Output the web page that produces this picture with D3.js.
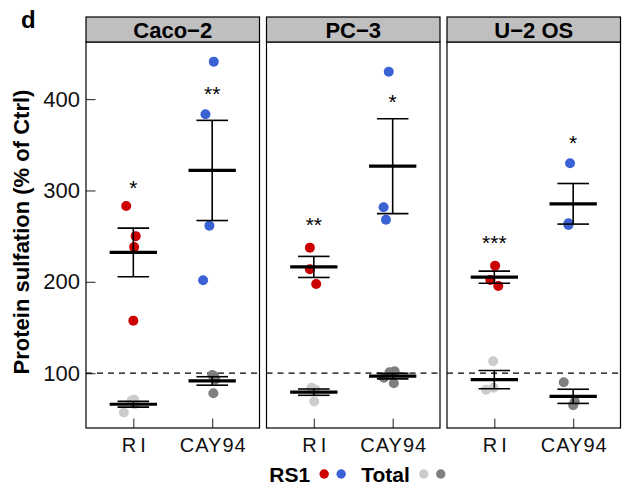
<!DOCTYPE html>
<html>
<head>
<meta charset="utf-8">
<script src="https://cdn.jsdelivr.net/npm/d3@7"></script>
<style>
    body { margin: 0; background: #fff; }
    svg { display: block; font-family: 'Liberation Sans', Arial, sans-serif; }
</style>
</head>
<body>
<svg id="chart" width="624" height="491"></svg>
<script>
const cellLines = ['Caco−2', 'PC−3', 'U−2 OS'];
const treatments = ['RI', 'CAY94'];
const yTicks = [100, 200, 300, 400];
const ctrlLevel = 100;

// % of Ctrl, one array per cell line
const rs1RI = [[283, 250, 238, 157.5], [237.4, 213.8, 197.7], [217.7, 202, 195.5]];
const rs1CAY94 = [[441, 383.4, 261.5, 201.7], [430, 281.6, 268], [329.8, 264.1, 262.3]];
const totalRI = [[71, 70, 66, 57], [84, 69, 82, 82], [113, 82, 84]];
const totalCAY94 = [[98, 97, 93, 78], [102, 95, 89, 101], [90, 65, 69]];

// horizontal jitter of each point (category units)
const jitRS1RI = [[-0.09, 0.03, 0.01, 0], [-0.05, -0.05, 0.03], [0.01, -0.05, 0.05]];
const jitRS1CAY94 = [[0.02, -0.085, -0.035, -0.115], [-0.05, -0.115, -0.085], [-0.04, -0.06, -0.06]];
const jitTotalRI = [[0.01, -0.02, 0.015, -0.12], [-0.03, 0.005, 0, 0.02], [-0.015, -0.105, -0.01]];
const jitTotalCAY94 = [[0, 0.025, 0.04, 0.015], [0.025, -0.11, 0.015, -0.04], [-0.12, 0, 0.02]];

// significance labels and where they sit
const stars = [['*', '**'], ['**', '*'], ['***', '*']];
const starY = [[308, 411], [267, 401.5], [247, 357]];

const legendLabels = ['RS1', 'Total'];

const RED = '#cc0000';
const BLUE = '#3a62d4';
const LIGHT = '#cccccc';
const DARK = '#7f7f7f';
const legendColors = [[RED, BLUE], [LIGHT, DARK]];

const series = [
    { t: 0, vals: totalRI, jit: jitTotalRI, color: LIGHT },
    { t: 1, vals: totalCAY94, jit: jitTotalCAY94, color: DARK },
    { t: 0, vals: rs1RI, jit: jitRS1RI, color: RED },
    { t: 1, vals: rs1CAY94, jit: jitRS1CAY94, color: BLUE }
];

const svg = d3.select('#chart');
const panelTop = 42;
const panelBottom = 428;
const stripTop = 17;

const fx = d3.scaleBand()
    .domain(cellLines)
    .range([86, 620.5])
    .paddingInner(7 / 180.5);
const bw = fx.bandwidth();

const x = d3.scaleLinear().domain([0.4, 2.6]).range([0, bw]);
const y = d3.scaleLinear().domain([40, 462.5]).range([panelBottom, panelTop]);

// y axis (ticks point inward)
const yAxis = svg.append('g')
    .attr('transform', `translate(${fx(cellLines[0])},0)`)
    .call(d3.axisLeft(y).tickValues(yTicks).tickSize(-9.5).tickPadding(6));
yAxis.select('.domain').remove();
yAxis.selectAll('line').attr('stroke', '#333').attr('stroke-width', 1.1);
yAxis.selectAll('text').attr('font-size', 22).attr('fill', '#111').attr('font-family', null);

cellLines.forEach((cell, ci) => {
    const g = svg.append('g').attr('transform', `translate(${fx(cell)},0)`);

    // control level
    g.append('line')
        .attr('x1', 0).attr('x2', bw)
        .attr('y1', y(ctrlLevel)).attr('y2', y(ctrlLevel))
        .attr('stroke', '#000')
        .attr('stroke-width', 1.2)
        .attr('stroke-dasharray', '6,5');

    // points
    series.forEach((s) => {
        s.vals[ci].forEach((v, i) => {
            g.append('circle')
                .attr('cx', x(s.t + 1 + s.jit[ci][i]))
                .attr('cy', y(v))
                .attr('r', 5)
                .attr('fill', s.color);
        });
    });

    // mean +/- SEM
    series.forEach((s) => {
        const vals = s.vals[ci];
        const m = d3.mean(vals);
        const se = d3.deviation(vals) / Math.sqrt(vals.length);
        const cx = s.t + 1;

        g.append('line')
            .attr('x1', x(cx)).attr('x2', x(cx))
            .attr('y1', y(m - se)).attr('y2', y(m + se))
            .attr('stroke', '#000').attr('stroke-width', 1.6);
        [m - se, m + se].forEach((v) => {
            g.append('line')
                .attr('x1', x(cx - 0.2)).attr('x2', x(cx + 0.2))
                .attr('y1', y(v)).attr('y2', y(v))
                .attr('stroke', '#000').attr('stroke-width', 1.6);
        });
        g.append('line')
            .attr('x1', x(cx - 0.3)).attr('x2', x(cx + 0.3))
            .attr('y1', y(m)).attr('y2', y(m))
            .attr('stroke', '#000').attr('stroke-width', 3.2);
    });

    // significance
    stars[ci].forEach((lab, ti) => {
        g.append('text')
            .attr('x', x(ti + 1))
            .attr('y', y(starY[ci][ti]) + 11.5)
            .attr('text-anchor', 'middle')
            .attr('font-size', 21)
            .attr('fill', '#000')
            .text(lab);
    });

    // x axis
    const xAxis = g.append('g')
        .attr('transform', `translate(0,${panelBottom})`)
        .call(d3.axisBottom(x).tickValues([1, 2]).tickFormat((d) => treatments[d - 1]).tickSize(-9.5).tickPadding(9.5));
    xAxis.select('.domain').remove();
    xAxis.selectAll('line').attr('stroke', '#333').attr('stroke-width', 1.1);
    xAxis.selectAll('text')
        .attr('font-size', 20)
        .attr('font-family', null)
        .attr('fill', '#111')
        .style('letter-spacing', (d) => d === 1 ? '4px' : '1px')
        .attr('dx', (d) => d === 1 ? 2 : 0.5);

    // panel border
    g.append('rect')
        .attr('x', 0).attr('y', panelTop)
        .attr('width', bw).attr('height', panelBottom - panelTop)
        .attr('fill', 'none').attr('stroke', '#000').attr('stroke-width', 1.2);

    // strip
    g.append('rect')
        .attr('x', 0).attr('y', stripTop)
        .attr('width', bw).attr('height', panelTop - stripTop)
        .attr('fill', '#bfbfbf').attr('stroke', '#000').attr('stroke-width', 1.2);
    g.append('text')
        .attr('x', bw / 2).attr('y', 37.8)
        .attr('text-anchor', 'middle')
        .attr('font-size', 22)
        .attr('font-weight', 'bold')
        .text(cell);
});

// y title
svg.append('text')
    .attr('transform', `translate(29,${(panelTop + panelBottom) / 2 - 3}) rotate(-90)`)
    .attr('text-anchor', 'middle')
    .attr('font-size', 22)
    .attr('font-weight', 'bold')
    .text('Protein sulfation (% of Ctrl)');

// panel tag
svg.append('text')
    .attr('x', 21).attr('y', 27.5)
    .attr('font-size', 24)
    .attr('font-weight', 'bold')
    .text('d');

// legend
let lx = 269.3;
const legendY = 481.5;
legendLabels.forEach((lab, i) => {
    const t = svg.append('text')
        .attr('x', lx).attr('y', legendY)
        .attr('font-size', 21)
        .attr('font-weight', 'bold')
        .text(lab);
    lx += t.node().getComputedTextLength() + 14;
    legendColors[i].forEach((c) => {
        svg.append('circle')
            .attr('cx', lx).attr('cy', legendY - 7.5)
            .attr('r', 4.7)
            .attr('fill', c);
        lx += 17;
    });
    lx += 3;
});
</script>
</body>
</html>
